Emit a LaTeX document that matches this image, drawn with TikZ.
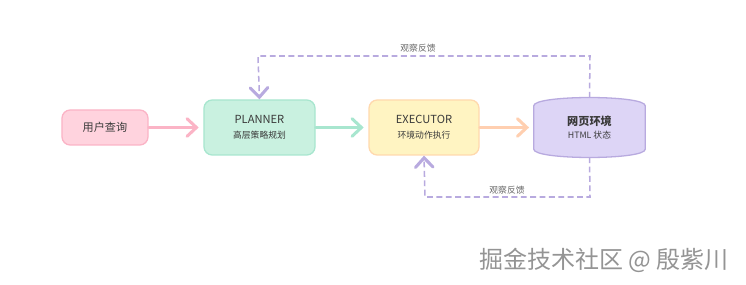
\documentclass[tikz,border=0pt]{standalone}
\usepackage{fontspec}
\setmainfont{Noto Sans CJK SC}
\usetikzlibrary{arrows.meta,backgrounds,calc}
\definecolor{ink}{HTML}{3A3A3A}
\definecolor{note}{HTML}{666666}
\definecolor{pinkfill}{HTML}{FFD3DE}\definecolor{pinkline}{HTML}{FBB4C6}
\definecolor{mintfill}{HTML}{C9F1E0}\definecolor{mintline}{HTML}{A8E6CF}
\definecolor{lemonfill}{HTML}{FFF4C2}\definecolor{lemonline}{HTML}{FFD9AE}
\definecolor{peach}{HTML}{FFCFB0}
\definecolor{lilacfill}{HTML}{DDD5F6}\definecolor{lilacline}{HTML}{B8AADF}
\tikzset{>={Straight Barb[length=8pt,width=15pt,line cap=round,line width=2.6pt]},
  every node/.style={text=ink},
  box/.style={rounded corners=7pt,draw,line width=1.1pt,align=center,minimum height=1.65cm,minimum width=3.3cm},
  flow/.style={line width=2pt,->,shorten >=4pt,line cap=round},
  feedback/.style={line width=1.3pt,lilacline,dash pattern=on 5pt off 3pt,->},
  title/.style={font=\fontsize{9.5}{11}\selectfont},
  sub/.style={font=\fontsize{7.5}{9}\selectfont}}

\begin{document}
\begin{tikzpicture}[x=0.03cm,y=-0.03cm]
\useasboundingbox (0,0) rectangle (746,285);
% nodes
\node[box,fill=pinkfill,draw=pinkline,minimum width=2.58cm,minimum height=1.05cm,title] (query) at (105,127.5){用户查询};
\node[box,fill=mintfill,draw=mintline,minimum width=3.33cm] (planner) at (259.5,127.5){\fontsize{9.5}{11}\selectfont PLANNER\\[1pt]\fontsize{7.5}{9}\selectfont 高层策略规划};
\node[box,fill=lemonfill,draw=lemonline] (executor) at (424,127.5){\fontsize{9.5}{11}\selectfont EXECUTOR\\[1pt]\fontsize{7.5}{9}\selectfont 环境动作执行};
\node[align=center,minimum width=3.33cm,minimum height=1.77cm,inner sep=0pt] (env) at (589.5,127.5){\fontsize{9.5}{11}\selectfont\bfseries 网页环境\\[-1pt]\fontsize{7.5}{9}\selectfont HTML 状态};
\begin{scope}[on background layer]
\draw[fill=lilacfill,draw=lilacline,line width=1.1pt] ($(env.north west)+(0,8)$) .. controls ($(env.north west)+(0,-3)$) and ($(env.north east)+(0,-3)$) .. ($(env.north east)+(0,8)$) -- ($(env.south east)+(0,-8)$) .. controls ($(env.south east)+(0,3)$) and ($(env.south west)+(0,3)$) .. ($(env.south west)+(0,-8)$) -- cycle;
\end{scope}
% main flow
\draw[flow,pinkline] (query) -- (planner);
\draw[flow,mintline] (planner) -- (executor);
\draw[flow,peach] (executor) -- (env);
% feedback loops
\coordinate (topL) at (258,56);\coordinate (topR) at (590,56);
\coordinate (botL) at (425,197);\coordinate (botR) at (590,197);
\draw[feedback] (env.north) -- (topR) -- (topL) -- (planner.north);
\draw[feedback] (env.south) -- (botR) -- (botL) -- (executor.south);
\node[sub,text=note] (obsTop) at (418,48){观察反馈};
\node[sub,text=note] (obsBot) at (507,190){观察反馈};
% watermark
\node[text=black!42,font=\fontsize{20.5}{24}\selectfont] (mark) at (604,260){掘金技术社区 @ 殷紫川};
\end{tikzpicture}
\end{document}
